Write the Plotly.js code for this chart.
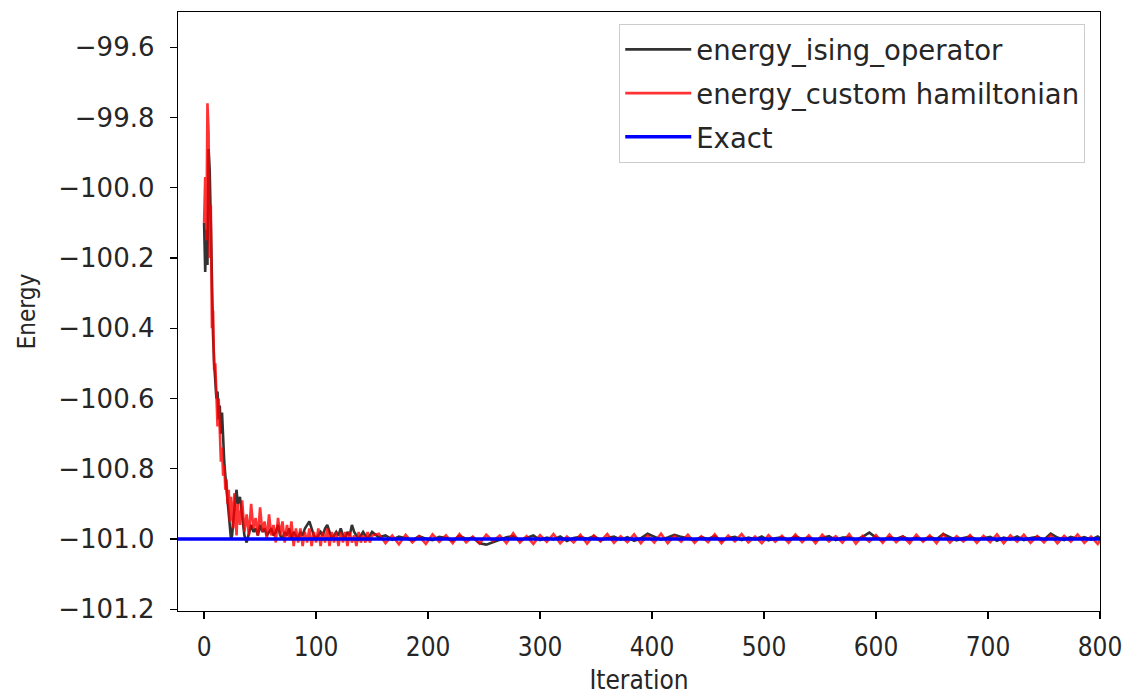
<!DOCTYPE html>
<html>
<head>
<meta charset="utf-8">
<script src="https://cdn.plot.ly/plotly-3.0.1.min.js"></script>
<style>html,body{margin:0;padding:0;background:#fff;}#chart{width:1124px;height:695px;}</style>
</head>
<body>
<div id="chart"></div>
<script>
// Iteration indices
const iterEarly = [0,1,2,3,4,5,6,7,8,9,10,11,12,13,14,15,16,17,18,19,20,21,22,23,24,25,26,27,28,29,30];
const iterMid = [32,34,36,38,40,42,44,46,48,50,52,54,56,58,60,62,64,66,68,70,72,74,76,78,80,82,84,86,88,90,
  92,94,96,98,100,102,104,106,108,110,112,114,116,118,120,122,124,126,128,130,132,134,136,138,140,142,144,146,148,150];
const iterLate = [156,162,168,174,180,186,192,198,204,210,
  216,222,228,234,240,246,252,258,264,270,
  276,282,288,294,300,306,312,318,324,330,
  336,342,348,354,360,366,372,378,384,390,
  396,402,408,414,420,426,432,438,444,450,
  456,462,468,474,480,486,492,498,504,510,
  516,522,528,534,540,546,552,558,564,570,
  576,582,588,594,600,606,612,618,624,630,
  636,642,648,654,660,666,672,678,684,690,
  696,702,708,714,720,726,732,738,744,750,
  756,762,768,774,780,786,792,798,800];

// energy_ising_operator
const isingEarly = [-100.10,-100.24,-100.12,-100.22,-99.89,-99.95,-100.10,-100.30,-100.42,-100.50,
  -100.55,-100.60,-100.58,-100.66,-100.62,-100.70,-100.64,-100.72,-100.78,-100.82,
  -100.86,-100.90,-100.94,-100.97,-101.00,-100.99,-100.95,-100.92,-100.88,-100.86,-100.90];
const isingMid = [-100.88,-100.93,-100.99,-101.01,-100.98,-100.96,-100.98,-100.97,-100.99,-100.96,
  -100.98,-100.97,-100.99,-100.98,-100.97,-100.99,-100.98,-100.96,-100.99,-101.00,
  -100.98,-100.99,-100.97,-101.00,-100.98,-100.99,-101.00,-100.98,-100.99,-100.97,
  -100.96,-100.95,-100.97,-100.99,-101.00,-100.99,-100.98,-100.99,-100.97,-100.96,
  -100.98,-101.00,-100.99,-100.98,-100.99,-100.97,-100.99,-101.00,-100.98,-100.99,
  -100.96,-100.98,-100.99,-101.00,-100.99,-100.98,-100.99,-101.00,-100.99,-100.98];
const isingLate = [-100.995,-100.99,-101.002,-100.993,-100.998,-101.004,-100.992,-100.999,-101.003,-100.994,
  -100.997,-101.005,-100.991,-101.0,-100.996,-101.012,-101.016,-101.01,-101.002,-100.995,
  -100.992,-101.004,-100.998,-100.99,-101.003,-100.996,-101.001,-100.993,-101.006,-100.997,
  -100.994,-101.0,-100.992,-101.004,-100.997,-100.993,-101.002,-100.995,-101.005,-100.998,
  -100.985,-100.993,-101.002,-100.996,-100.988,-100.994,-100.999,-101.003,-100.995,-101.0,
  -100.992,-101.005,-100.997,-100.994,-101.003,-100.996,-101.001,-100.993,-101.004,-100.998,
  -100.995,-101.002,-100.993,-101.0,-100.996,-101.004,-100.997,-100.992,-101.003,-100.996,
  -100.995,-101.002,-100.994,-100.982,-100.996,-101.004,-100.995,-101.0,-100.993,-101.003,
  -100.996,-101.003,-100.994,-101.001,-100.986,-100.995,-101.004,-100.997,-100.993,-101.002,
  -100.998,-100.994,-101.005,-100.996,-101.001,-100.993,-101.003,-100.997,-100.994,-101.002,
  -100.985,-100.996,-101.003,-100.994,-101.0,-100.995,-101.002,-100.993,-100.997];

// energy_custom hamiltonian
const customEarly = [-100.10,-99.97,-100.15,-99.76,-99.84,-100.20,-100.05,-100.40,-100.35,-100.52,
  -100.50,-100.62,-100.68,-100.60,-100.72,-100.78,-100.74,-100.82,-100.79,-100.86,
  -100.83,-100.90,-100.86,-100.95,-100.88,-100.92,-100.97,-100.87,-100.93,-100.99,-100.90];
const customMid = [-100.96,-100.89,-100.98,-100.93,-100.99,-100.90,-100.97,-100.94,-100.99,-100.91,
  -100.98,-100.95,-101.00,-100.93,-100.99,-100.96,-101.01,-100.94,-100.99,-100.95,
  -101.01,-100.96,-101.00,-100.95,-101.02,-100.97,-101.01,-100.97,-101.02,-100.98,
  -101.01,-100.97,-101.02,-100.98,-101.01,-100.97,-101.02,-100.98,-101.01,-100.97,
  -101.02,-100.98,-101.01,-100.98,-101.02,-100.98,-101.01,-100.98,-101.02,-100.98,
  -101.01,-100.99,-101.02,-100.98,-101.01,-100.99,-101.01,-100.98,-101.01,-100.99];
const customLate = [-100.985,-101.012,-100.99,-101.015,-100.988,-101.01,-100.992,-101.014,-100.987,-101.008,
  -100.99,-101.012,-100.986,-101.01,-100.993,-101.013,-100.988,-101.006,-100.99,-101.012,
  -100.984,-101.01,-100.992,-101.014,-100.989,-101.008,-100.986,-101.012,-100.993,-101.01,
  -100.988,-101.013,-100.99,-101.007,-100.986,-101.011,-100.992,-101.009,-100.987,-101.012,
  -100.99,-101.01,-100.985,-101.012,-100.991,-101.008,-100.988,-101.011,-100.992,-101.009,
  -100.987,-101.012,-100.99,-101.007,-100.986,-101.01,-100.993,-101.012,-100.989,-101.008,
  -100.991,-101.011,-100.987,-101.009,-100.99,-101.012,-100.988,-101.007,-100.992,-101.01,
  -100.986,-101.013,-100.991,-101.008,-100.989,-101.011,-100.987,-101.009,-100.993,-101.012,
  -100.988,-101.008,-100.99,-101.012,-100.986,-101.01,-100.992,-101.007,-100.989,-101.011,
  -100.991,-101.009,-100.987,-101.012,-100.99,-101.008,-100.988,-101.011,-100.992,-101.01,
  -100.989,-101.012,-100.991,-101.008,-100.987,-101.011,-100.993,-101.014,-101.005];

const exactEnergy = -101.0;
const xRange = [-23.3, 800];
const yRange = [-101.205, -99.5];
const xTicks = [0,100,200,300,400,500,600,700,800];
const yTicks = [-99.6,-99.8,-100.0,-100.2,-100.4,-100.6,-100.8,-101.0,-101.2];

const iters = iterEarly.concat(iterMid, iterLate);
const ising = isingEarly.concat(isingMid, isingLate);
const custom = customEarly.concat(customMid, customLate);

const fontMain = 'DejaVu Sans, sans-serif';
const fontCond = 'DejaVu Sans Condensed, DejaVu Sans, sans-serif';

const traces = [
  {x: iters, y: ising, mode: 'lines', name: 'energy_ising_operator', legendgroup: 'a',
   line: {color: 'rgba(0,0,0,0.8)', width: 2.6}},
  {x: iters, y: custom, mode: 'lines', name: 'energy_custom hamiltonian', legendgroup: 'b',
   line: {color: 'rgba(255,0,0,0.8)', width: 2.6}},
  {x: xRange, y: [exactEnergy, exactEnergy], mode: 'lines', name: 'Exact', legendgroup: 'c',
   line: {color: '#0000ff', width: 3.5}}
];

const layout = {
  width: 1124, height: 695,
  margin: {l: 178, r: 24, t: 12, b: 84},
  paper_bgcolor: '#fff', plot_bgcolor: '#fff',
  showlegend: true,
  font: {family: fontMain, color: '#262626'},
  xaxis: {
    range: xRange, tickvals: xTicks, ticktext: xTicks.map(String),
    ticks: 'outside', ticklen: 7, tickwidth: 1.2, tickcolor: '#000',
    showline: true, mirror: true, linecolor: '#000', linewidth: 1.3,
    showgrid: false, zeroline: false,
    tickfont: {family: fontCond, size: 26, color: '#262626'},
    ticklabelstandoff: 5,
    title: {text: 'Iteration', font: {family: fontCond, size: 26, color: '#262626'}, standoff: 12}
  },
  yaxis: {
    range: yRange, tickvals: yTicks, ticktext: yTicks.map(v => '\u2212' + Math.abs(v).toFixed(1)),
    ticks: 'outside', ticklen: 7, tickwidth: 1.2, tickcolor: '#000',
    showline: true, mirror: true, linecolor: '#000', linewidth: 1.3,
    showgrid: false, zeroline: false,
    tickfont: {family: fontMain, size: 26, color: '#262626'},
    ticklabelstandoff: 10,
    title: {text: 'Energy', font: {family: fontCond, size: 24, color: '#262626'}, standoff: 16}
  },
  legend: {
    x: 0.984, y: 0.98, xanchor: 'right', yanchor: 'top',
    bgcolor: 'rgba(255,255,255,0.85)', bordercolor: '#cccccc', borderwidth: 1,
    itemwidth: 66, tracegroupgap: 5, traceorder: 'grouped',
    font: {family: fontMain, size: 27.5, color: '#262626'}
  }
};

Plotly.newPlot('chart', traces, layout, {displayModeBar: false, staticPlot: true});
</script>
</body>
</html>
